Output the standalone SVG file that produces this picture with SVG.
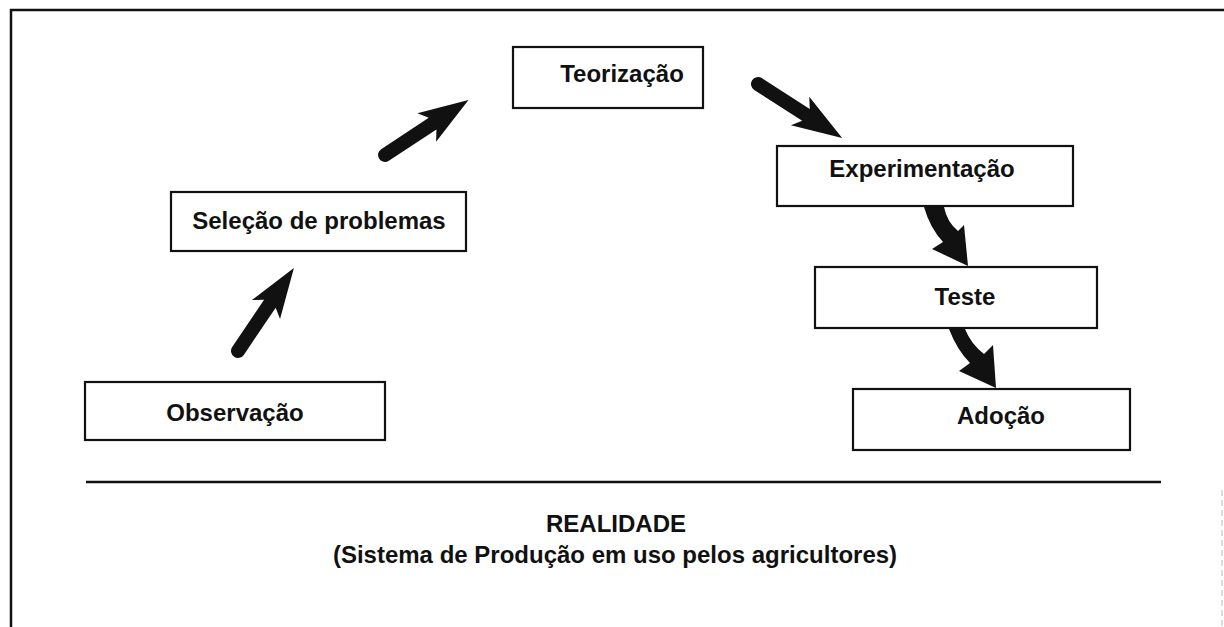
<svg xmlns="http://www.w3.org/2000/svg" width="1224" height="627" viewBox="0 0 1224 627">
<style>
  .box { fill: #ffffff; stroke: #111111; stroke-width: 2.2; }
  .lbl { font-family: "Liberation Sans", Arial, sans-serif; font-size: 24px; font-weight: bold; fill: #111111; text-anchor: middle; }
  .frame { stroke: #111111; stroke-width: 2.5; fill: none; }
  .arrow { fill: #111111; stroke: none; }
</style>
<defs>
  <path id="straightArrow" d="M0,-7 L57,-7 L50,-17 L100,0 L50,17 L57,7 L0,7 A7,7 0 0 1 0,-7 Z"/>
</defs>
<rect width="1224" height="627" fill="#ffffff"/>
<g id="frame">
  <line class="frame" x1="10" y1="10" x2="1224" y2="10"/>
  <line class="frame" x1="11" y1="9" x2="11" y2="627"/>
  <line x1="1222" y1="490" x2="1222" y2="627" stroke="#bbbbbb" stroke-width="1" stroke-dasharray="6,4"/>
  <line class="frame" x1="86" y1="482" x2="1161" y2="482"/>
</g>
<g id="connectors">
  <use href="#straightArrow" class="arrow" transform="translate(238,351) rotate(-56)"/>
  <use href="#straightArrow" class="arrow" transform="translate(385,155) rotate(-33.4)"/>
  <use href="#straightArrow" class="arrow" transform="translate(758,84) rotate(32.7)"/>
  <path class="arrow" d="M924,207 L944,207 Q947,222 958,231 L964,225 L968,266 L932,249 L943,242 Q930,228 924,207 Z"/>
  <path class="arrow" d="M949,329 L965,329 Q971,344 984,354 L993,345 L996,388 L959,371 L970,363 Q957,350 949,329 Z"/>
</g>
<g id="observacao">
  <rect class="box" x="85" y="382" width="300" height="58"/>
  <text class="lbl" x="235" y="421">Observação</text>
</g>
<g id="selecao">
  <rect class="box" x="171" y="192" width="295" height="59"/>
  <text class="lbl" x="319" y="229">Seleção de problemas</text>
</g>
<g id="teorizacao">
  <rect class="box" x="513" y="47" width="190" height="61"/>
  <text class="lbl" x="622" y="82">Teorização</text>
</g>
<g id="experimentacao">
  <rect class="box" x="777" y="146" width="296" height="60"/>
  <text class="lbl" x="922" y="177">Experimentação</text>
</g>
<g id="teste">
  <rect class="box" x="815" y="267" width="282" height="61"/>
  <text class="lbl" x="965" y="305">Teste</text>
</g>
<g id="adocao">
  <rect class="box" x="853" y="389" width="277" height="61"/>
  <text class="lbl" x="1001" y="424">Adoção</text>
</g>
<g id="realidade">
  <text class="lbl" x="616" y="532">REALIDADE</text>
  <text class="lbl" x="615" y="563">(Sistema de Produção em uso pelos agricultores)</text>
</g>
</svg>
